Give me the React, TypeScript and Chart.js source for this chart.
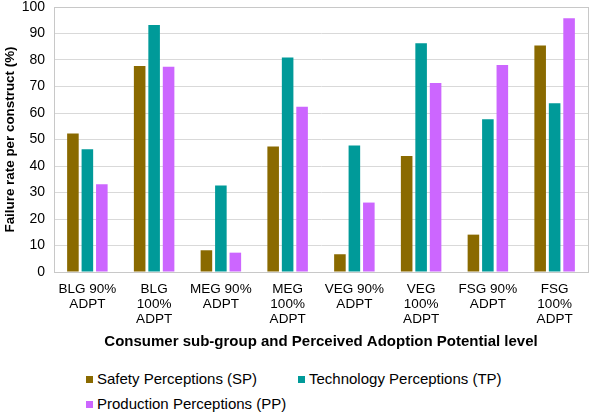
import React, { useEffect, useRef } from "react";
import { Chart, registerables } from "chart.js";

Chart.register(...registerables);

const categories: string[][] = [
  ["BLG 90%", "ADPT"],
  ["BLG", "100%", "ADPT"],
  ["MEG 90%", "ADPT"],
  ["MEG", "100%", "ADPT"],
  ["VEG 90%", "ADPT"],
  ["VEG", "100%", "ADPT"],
  ["FSG 90%", "ADPT"],
  ["FSG", "100%", "ADPT"],
];

const safetySP = [52.3, 77.7, 8.2, 47.4, 6.7, 43.8, 14.1, 85.5];
const technologyTP = [46.3, 93.2, 32.6, 80.9, 47.7, 86.3, 57.6, 63.7];
const productionPP = [33.1, 77.5, 7.3, 62.4, 26.2, 71.3, 78.1, 95.8];

const seriesNames = [
  "Safety Perceptions (SP)",
  "Technology Perceptions (TP)",
  "Production Perceptions (PP)",
];
const seriesColors = ["#8a6a00", "#009a99", "#cc66ff"];

const yTicks = [0, 10, 20, 30, 40, 50, 60, 70, 80, 90, 100];

const FONT = "'Liberation Sans', Arial, sans-serif";
const CANVAS_H = 351;
const PLOT_BOTTOM = 272;
const PLOT_LEFT = 54;

export default function App() {
  const ref = useRef<HTMLCanvasElement>(null);

  useEffect(() => {
    if (!ref.current) return;
    const borderPlugin = {
      id: "plotBorder",
      afterDraw(chart: any) {
        const { ctx, chartArea } = chart;
        ctx.save();
        ctx.strokeStyle = "#c8c8c8";
        ctx.lineWidth = 1;
        ctx.strokeRect(
          Math.round(chartArea.left) + 0.5,
          Math.round(chartArea.top) + 0.5,
          Math.round(chartArea.right - chartArea.left),
          Math.round(chartArea.bottom - chartArea.top)
        );
        ctx.restore();
      },
    };
    const chart = new Chart(ref.current, {
      type: "bar",
      data: {
        labels: categories,
        datasets: [safetySP, technologyTP, productionPP].map((d, i) => ({
          label: seriesNames[i],
          data: d,
          backgroundColor: seriesColors[i],
          borderColor: seriesColors[i],
          borderWidth: 0,
          barPercentage: 0.8,
          categoryPercentage: 0.65,
        })),
      },
      options: {
        animation: false,
        responsive: false,
        maintainAspectRatio: false,
        layout: { padding: { left: 0, right: 3, top: 7, bottom: 0 } },
        plugins: {
          legend: { display: false },
          tooltip: { enabled: false },
        },
        scales: {
          x: {
            grid: { display: false, drawTicks: false },
            border: { display: true, color: "#c8c8c8" },
            afterFit: (axis: any) => {
              axis.height = CANVAS_H - PLOT_BOTTOM;
              axis.paddingLeft = 0;
              axis.paddingRight = 0;
            },
            ticks: {
              color: "#000",
              font: { family: FONT, size: 13.5, lineHeight: 1.11 },
              maxRotation: 0,
              autoSkip: false,
              padding: 10,
            },
            title: {
              display: true,
              text: "Consumer sub-group and Perceived Adoption Potential level",
              color: "#000",
              font: { family: FONT, size: 15, weight: "bold" },
              padding: { top: 2, bottom: 0 },
            },
          },
          y: {
            min: 0,
            max: 100,
            afterBuildTicks: (axis: any) => {
              axis.ticks = yTicks.map((v) => ({ value: v }));
            },
            afterFit: (axis: any) => {
              axis.width = PLOT_LEFT;
              axis.paddingTop = 0;
              axis.paddingBottom = 0;
            },
            grid: { color: "#d9d9d9", drawTicks: false },
            border: { display: true, color: "#c8c8c8" },
            ticks: {
              color: "#000",
              font: { family: FONT, size: 14 },
              padding: 9,
            },
            title: {
              display: true,
              text: "Failure rate per construct (%)",
              color: "#000",
              font: { family: FONT, size: 13.4, weight: "bold" },
              padding: { top: 2, bottom: 0 },
            },
          },
        },
      },
      plugins: [borderPlugin],
    });
    return () => chart.destroy();
  }, []);

  const legendItem = (i: number, left: number, top: number) => (
    <div
      key={i}
      style={{
        position: "absolute",
        left,
        top,
        display: "flex",
        alignItems: "center",
        fontFamily: FONT,
        fontSize: 15,
        color: "#000",
        whiteSpace: "nowrap",
        lineHeight: "18px",
      }}
    >
      <span
        style={{
          display: "inline-block",
          width: 7,
          height: 7,
          background: seriesColors[i],
          marginRight: 4,
        }}
      />
      {seriesNames[i]}
    </div>
  );

  return (
    <div
      style={{
        position: "absolute",
        left: 0,
        top: 0,
        width: 591,
        height: 414,
        background: "#fff",
        overflow: "hidden",
      }}
    >
      <canvas ref={ref} width={591} height={CANVAS_H} style={{ display: "block" }} />
      {legendItem(0, 86, 370)}
      {legendItem(1, 298, 370)}
      {legendItem(2, 86, 395)}
    </div>
  );
}
